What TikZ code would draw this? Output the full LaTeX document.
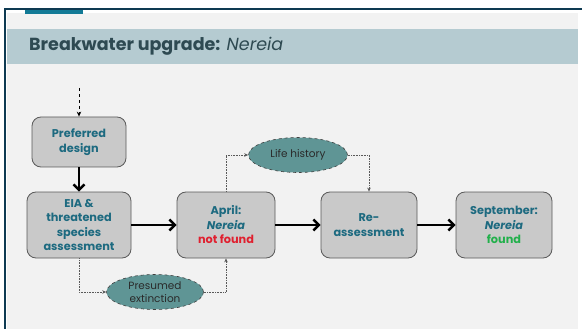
\documentclass[tikz,border=0pt]{standalone}
\usepackage{fontspec}
\setmainfont{Poppins}
\usetikzlibrary{arrows.meta,shapes.geometric}
\definecolor{bgc}{HTML}{F2F2F2}
\definecolor{bandc}{HTML}{B5CBD1}
\definecolor{framec}{HTML}{0E3A52}
\definecolor{tabc}{HTML}{127A96}
\definecolor{titlec}{HTML}{2E4A52}
\definecolor{boxfill}{HTML}{C9C9C9}
\definecolor{boxdraw}{HTML}{5A5A5A}
\definecolor{boxtext}{HTML}{1D6A80}
\definecolor{ellfill}{HTML}{5F9595}
\definecolor{elltext}{HTML}{2A2A2A}
\definecolor{redc}{HTML}{E0202F}
\definecolor{greenc}{HTML}{22B04B}
\tikzset{
  stepbox/.style={draw=boxdraw, line width=0.8pt, fill=boxfill, rounded corners=9pt,
    align=center, text=boxtext, font=\fontsize{11.3}{14.5}\selectfont\bfseries,
    inner sep=0pt},
  ellnode/.style={ellipse, draw=black!75, dashed, line width=0.6pt, fill=ellfill,
    align=center, text=elltext, font=\fontsize{10.5}{12.5}\selectfont, inner sep=0pt,
    minimum width=99pt, minimum height=35pt},
  thickarrow/.style={line width=2.4pt, -{Straight Barb[length=5.5pt,width=11pt]}},
  dotconn/.style={draw=black!65, line width=0.6pt, densely dotted, -{Stealth[length=4pt,width=3.5pt]}},
}
\begin{document}
\begin{tikzpicture}[x=1pt,y=-1pt]
\useasboundingbox (0,0) rectangle (582,329);
\fill[white] (0,0) rectangle (582,329);
\fill[bgc] (7,13) rectangle (578,329);
\fill[bandc] (7,29) rectangle (578,64);
\draw[framec, line width=2pt] (5,329) -- (5,9) -- (582,9);
\fill[tabc] (25,10) rectangle (83,14);
\node[anchor=west, text=titlec, font=\fontsize{17.5}{20}\selectfont, inner sep=0pt] (title) at (29,46)
  {\textbf{Breakwater upgrade:} \textit{Nereia}};

\node[stepbox, minimum width=94pt, minimum height=50pt] (pd) at (79,142) {Preferred\\design};
\node[stepbox, minimum width=104pt, minimum height=66pt] (eia) at (79,225) {EIA \&\\threatened\\species\\assessment};
\node[stepbox, minimum width=98pt, minimum height=66pt] (apr) at (226,225) {April:\\\textit{Nereia}\\\textcolor{redc}{not found}};
\node[stepbox, minimum width=96pt, minimum height=66pt] (re) at (369,225) {Re-\\assessment};
\node[stepbox, minimum width=96pt, minimum height=66pt] (sep) at (504,225) {September:\\\textit{Nereia}\\\textcolor{greenc}{found}};

\node[ellnode] (lh) at (298,155) {Life history};
\node[ellnode, minimum width=97pt] (pe) at (155,292) {Presumed\\extinction};

\coordinate (top) at (79,88);
\draw[dashed, line width=0.9pt, -{Stealth[length=5pt,width=4.5pt]}] (top) -- (pd.north);
\draw[thickarrow] (pd.south) -- (eia.north);
\draw[thickarrow] (eia.east) -- (apr.west);
\draw[thickarrow] (apr.east) -- (re.west);
\draw[thickarrow] (re.east) -- (sep.west);

\draw[dotconn] (eia.south) |- (pe.west);
\draw[dotconn] (pe.east) -| (apr.south);
\draw[dotconn] (apr.north) |- (lh.west);
\draw[dotconn] (lh.east) -| (re.north);
\end{tikzpicture}
\end{document}
